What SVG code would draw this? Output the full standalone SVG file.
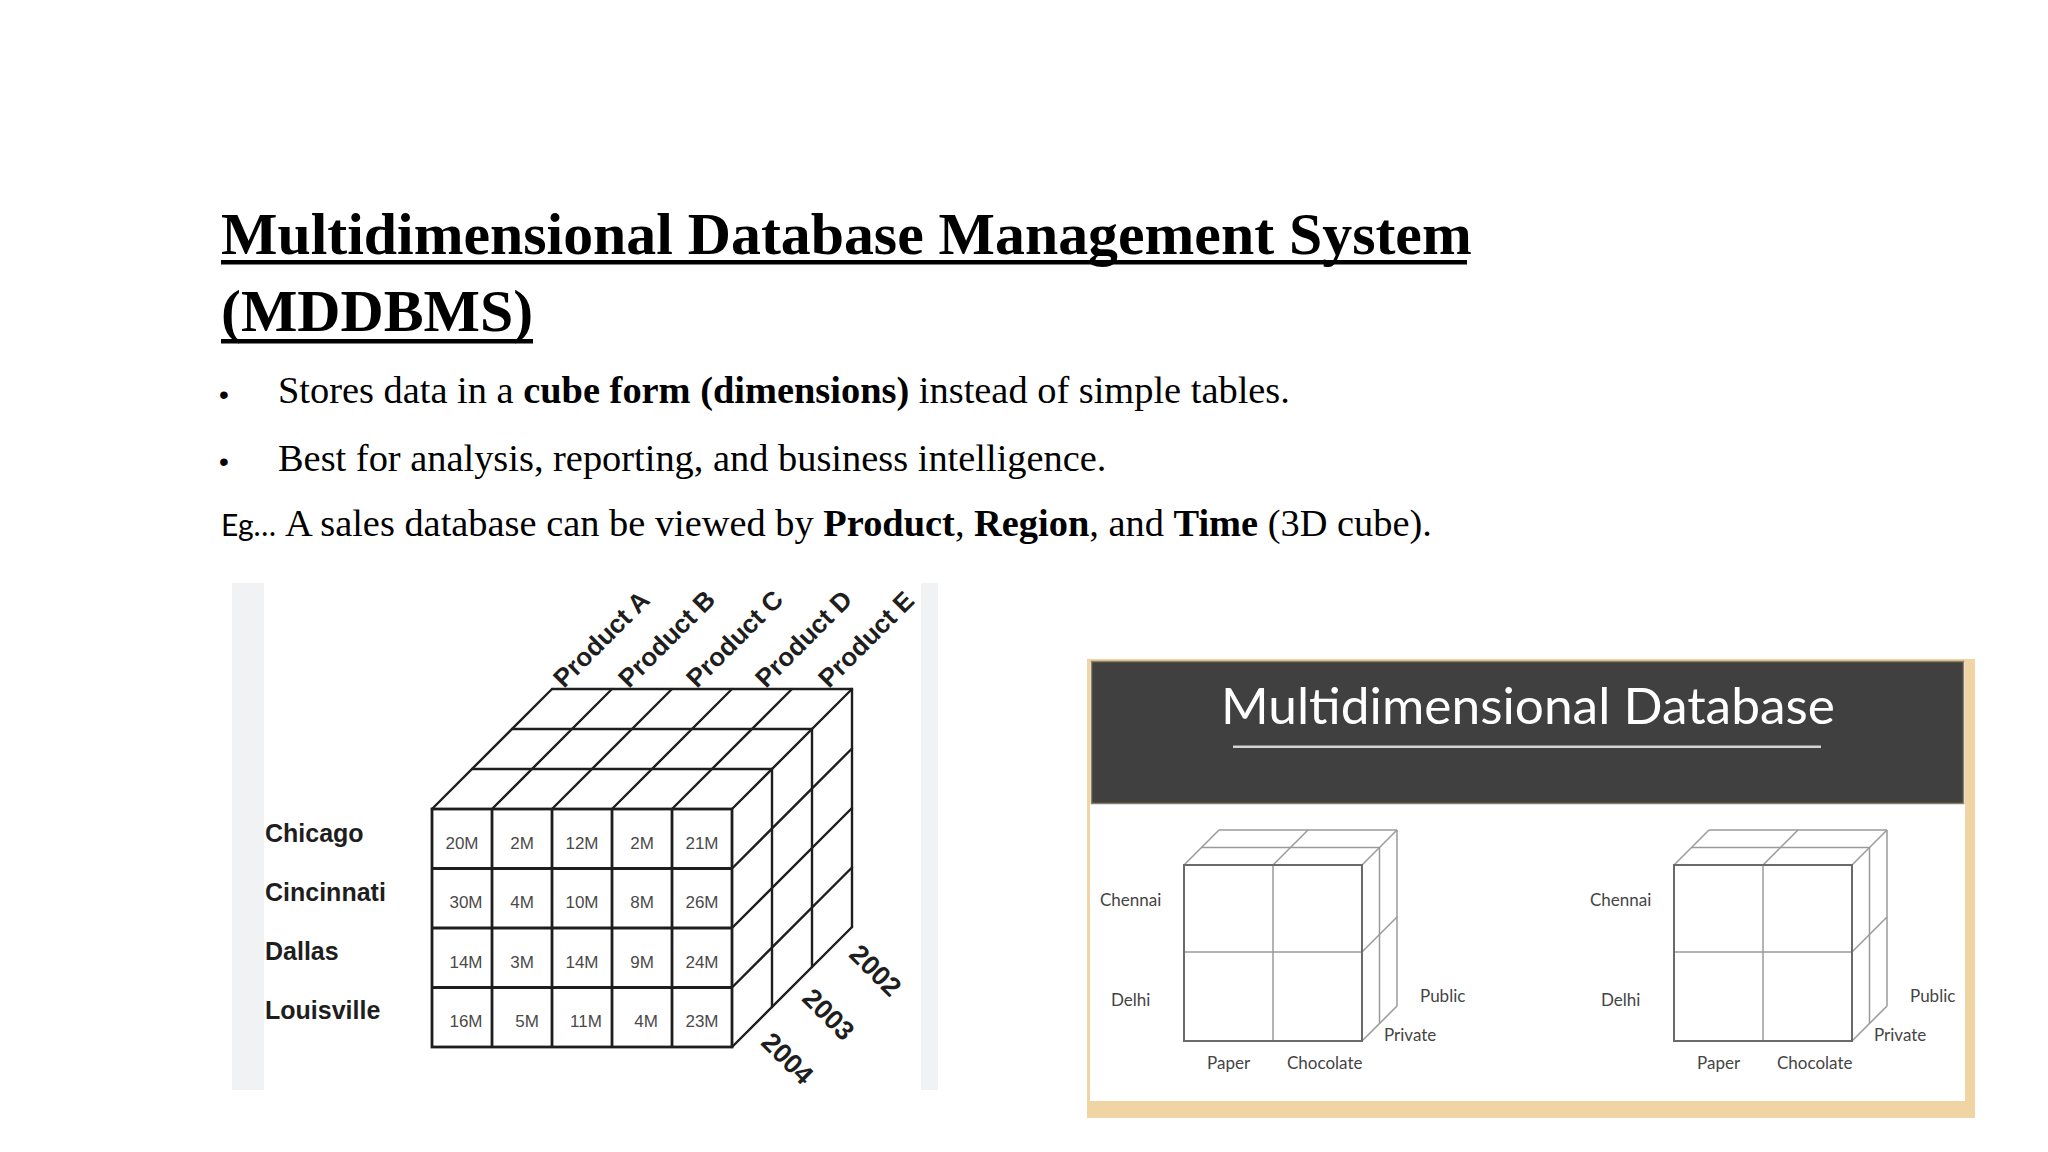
<svg xmlns="http://www.w3.org/2000/svg" width="2048" height="1152" viewBox="0 0 2048 1152">
<style>
.serif{font-family:"Liberation Serif","Times New Roman",serif;fill:#000}
.b{font-weight:bold}
.sans{font-family:"Liberation Sans",Arial,sans-serif}
.cal{font-family:Lato,"Liberation Sans",sans-serif}
.cube{stroke:#1e1e1e;stroke-width:2.4;fill:none;stroke-linecap:round}
.cubef{stroke:#1e1e1e;stroke-width:2.8;fill:none}
.val{font-family:"Liberation Sans",Arial,sans-serif;font-size:17px;fill:#4a4a4a;text-anchor:middle}
.city{font-family:"Liberation Sans",Arial,sans-serif;font-size:25px;font-weight:bold;fill:#1e1e1e}
.prod{font-family:"Liberation Sans",Arial,sans-serif;font-size:26px;font-weight:bold;fill:#1e1e1e}
.year{font-family:"Liberation Sans",Arial,sans-serif;font-size:27px;font-weight:bold;fill:#1e1e1e;text-anchor:middle}
.mf{stroke:#6a6a6a;stroke-width:2;fill:none}
.mi{stroke:#9a9a9a;stroke-width:1.5;fill:none}
.ml{font-family:Lato,"Liberation Sans",sans-serif;font-size:17px;fill:#444}
</style>
<rect width="2048" height="1152" fill="#fff"/>

<g id="title">
<text class="serif b" x="221" y="254" font-size="59.8">Multidimensional Database Management System</text>
<rect x="221" y="260" width="1246" height="4.5" fill="#000"/>
<text class="serif b" x="221" y="331" font-size="59.8">(MDDBMS)</text>
<rect x="221" y="339" width="312" height="4.5" fill="#000"/>
</g>

<g id="bullets">
<text class="sans" x="219" y="404" font-size="28">•</text>
<text class="serif" x="278" y="403" font-size="38.4">Stores data in a <tspan class="b">cube form (dimensions)</tspan> instead of simple tables.</text>
<text class="sans" x="219" y="471" font-size="28">•</text>
<text class="serif" x="278" y="471" font-size="38.4">Best for analysis, reporting, and business intelligence.</text>
<text x="221" y="536"><tspan class="cal" font-size="30">Eg…</tspan><tspan class="serif" font-size="38.4" x="285">A sales database can be viewed by <tspan class="b">Product</tspan>, <tspan class="b">Region</tspan>, and <tspan class="b">Time</tspan> (3D cube).</tspan></text>
</g>

<g id="sales-cube">
<rect x="232" y="583" width="32" height="507" fill="#f1f2f4"/>
<rect x="921" y="583" width="17" height="507" fill="#f1f2f4"/>
<g class="cube">
<path d="M432 809 L552 689 M492 809 L612 689 M552 809 L672 689 M612 809 L732 689 M672 809 L792 689 M732 809 L852 689"/>
<path d="M472 769 H772 M512 729 H812 M552 689 H852"/>
<path d="M772 769 V1007 M812 729 V967 M852 689 V927"/>
<path d="M732 868.5 L852 748.5 M732 928 L852 808 M732 987.5 L852 867.5 M732 1047 L852 927"/>
</g>
<g class="cubef">
<rect x="432" y="809" width="300" height="238" fill="#fff"/>
<path d="M492 809 V1047 M552 809 V1047 M612 809 V1047 M672 809 V1047 M432 868.5 H732 M432 928 H732 M432 987.5 H732"/>
</g>
<text class="val" x="462" y="849">20M</text><text class="val" x="522" y="849">2M</text><text class="val" x="582" y="849">12M</text><text class="val" x="642" y="849">2M</text><text class="val" x="702" y="849">21M</text>
<text class="val" x="466" y="908">30M</text><text class="val" x="522" y="908">4M</text><text class="val" x="582" y="908">10M</text><text class="val" x="642" y="908">8M</text><text class="val" x="702" y="908">26M</text>
<text class="val" x="466" y="968">14M</text><text class="val" x="522" y="968">3M</text><text class="val" x="582" y="968">14M</text><text class="val" x="642" y="968">9M</text><text class="val" x="702" y="968">24M</text>
<text class="val" x="466" y="1027">16M</text><text class="val" x="527" y="1027">5M</text><text class="val" x="586" y="1027">11M</text><text class="val" x="646" y="1027">4M</text><text class="val" x="702" y="1027">23M</text>
<text class="city" x="265" y="842">Chicago</text>
<text class="city" x="265" y="901">Cincinnati</text>
<text class="city" x="265" y="960">Dallas</text>
<text class="city" x="265" y="1019">Louisville</text>
<text class="prod" transform="translate(564 689) rotate(-45)">Product A</text>
<text class="prod" transform="translate(629 689) rotate(-45)">Product B</text>
<text class="prod" transform="translate(697 689) rotate(-45)">Product C</text>
<text class="prod" transform="translate(766 689) rotate(-45)">Product D</text>
<text class="prod" transform="translate(829 689) rotate(-45)">Product E</text>
<text class="year" transform="translate(869 977) rotate(45)">2002</text>
<text class="year" transform="translate(822 1021) rotate(45)">2003</text>
<text class="year" transform="translate(781 1065) rotate(45)">2004</text>
</g>

<g id="md-panel">
<rect x="1087" y="659" width="888" height="459" fill="#f1d4a3"/>
<rect x="1090" y="662" width="875" height="439" fill="#fff"/>
<rect x="1091.5" y="661.5" width="872" height="142" fill="#404040" stroke="#8c7f62" stroke-width="1.5"/>
<text class="cal" x="1528" y="724" font-size="50" fill="#fff" text-anchor="middle" textLength="614" lengthAdjust="spacingAndGlyphs">Multidimensional Database</text>
<rect x="1233" y="745.5" width="588" height="2.5" fill="#d4d4d4"/>
</g>

<g id="mini-cube-1">
<g class="mi">
<path d="M1201.5 847.5 H1379.5 M1219 830 H1397"/>
<path d="M1184 865 L1219 830 M1273 865 L1308 830 M1362 865 L1397 830"/>
<path d="M1379.5 847.5 V1023.5 M1397 830 V1006"/>
<path d="M1362 952 L1397 917 M1362 1041 L1397 1006"/>
<path d="M1273 865 V1041 M1184 952 H1362"/>
</g>
<rect class="mf" x="1184" y="865" width="178" height="176"/>
<text class="ml" x="1100" y="906">Chennai</text>
<text class="ml" x="1111" y="1006">Delhi</text>
<text class="ml" x="1420" y="1002">Public</text>
<text class="ml" x="1384" y="1041">Private</text>
<text class="ml" x="1207" y="1069">Paper</text>
<text class="ml" x="1287" y="1069">Chocolate</text>
</g>

<g id="mini-cube-2">
<g class="mi">
<path d="M1691.5 847.5 H1869.5 M1709 830 H1887"/>
<path d="M1674 865 L1709 830 M1763 865 L1798 830 M1852 865 L1887 830"/>
<path d="M1869.5 847.5 V1023.5 M1887 830 V1006"/>
<path d="M1852 952 L1887 917 M1852 1041 L1887 1006"/>
<path d="M1763 865 V1041 M1674 952 H1852"/>
</g>
<rect class="mf" x="1674" y="865" width="178" height="176"/>
<text class="ml" x="1590" y="906">Chennai</text>
<text class="ml" x="1601" y="1006">Delhi</text>
<text class="ml" x="1910" y="1002">Public</text>
<text class="ml" x="1874" y="1041">Private</text>
<text class="ml" x="1697" y="1069">Paper</text>
<text class="ml" x="1777" y="1069">Chocolate</text>
</g>
</svg>
